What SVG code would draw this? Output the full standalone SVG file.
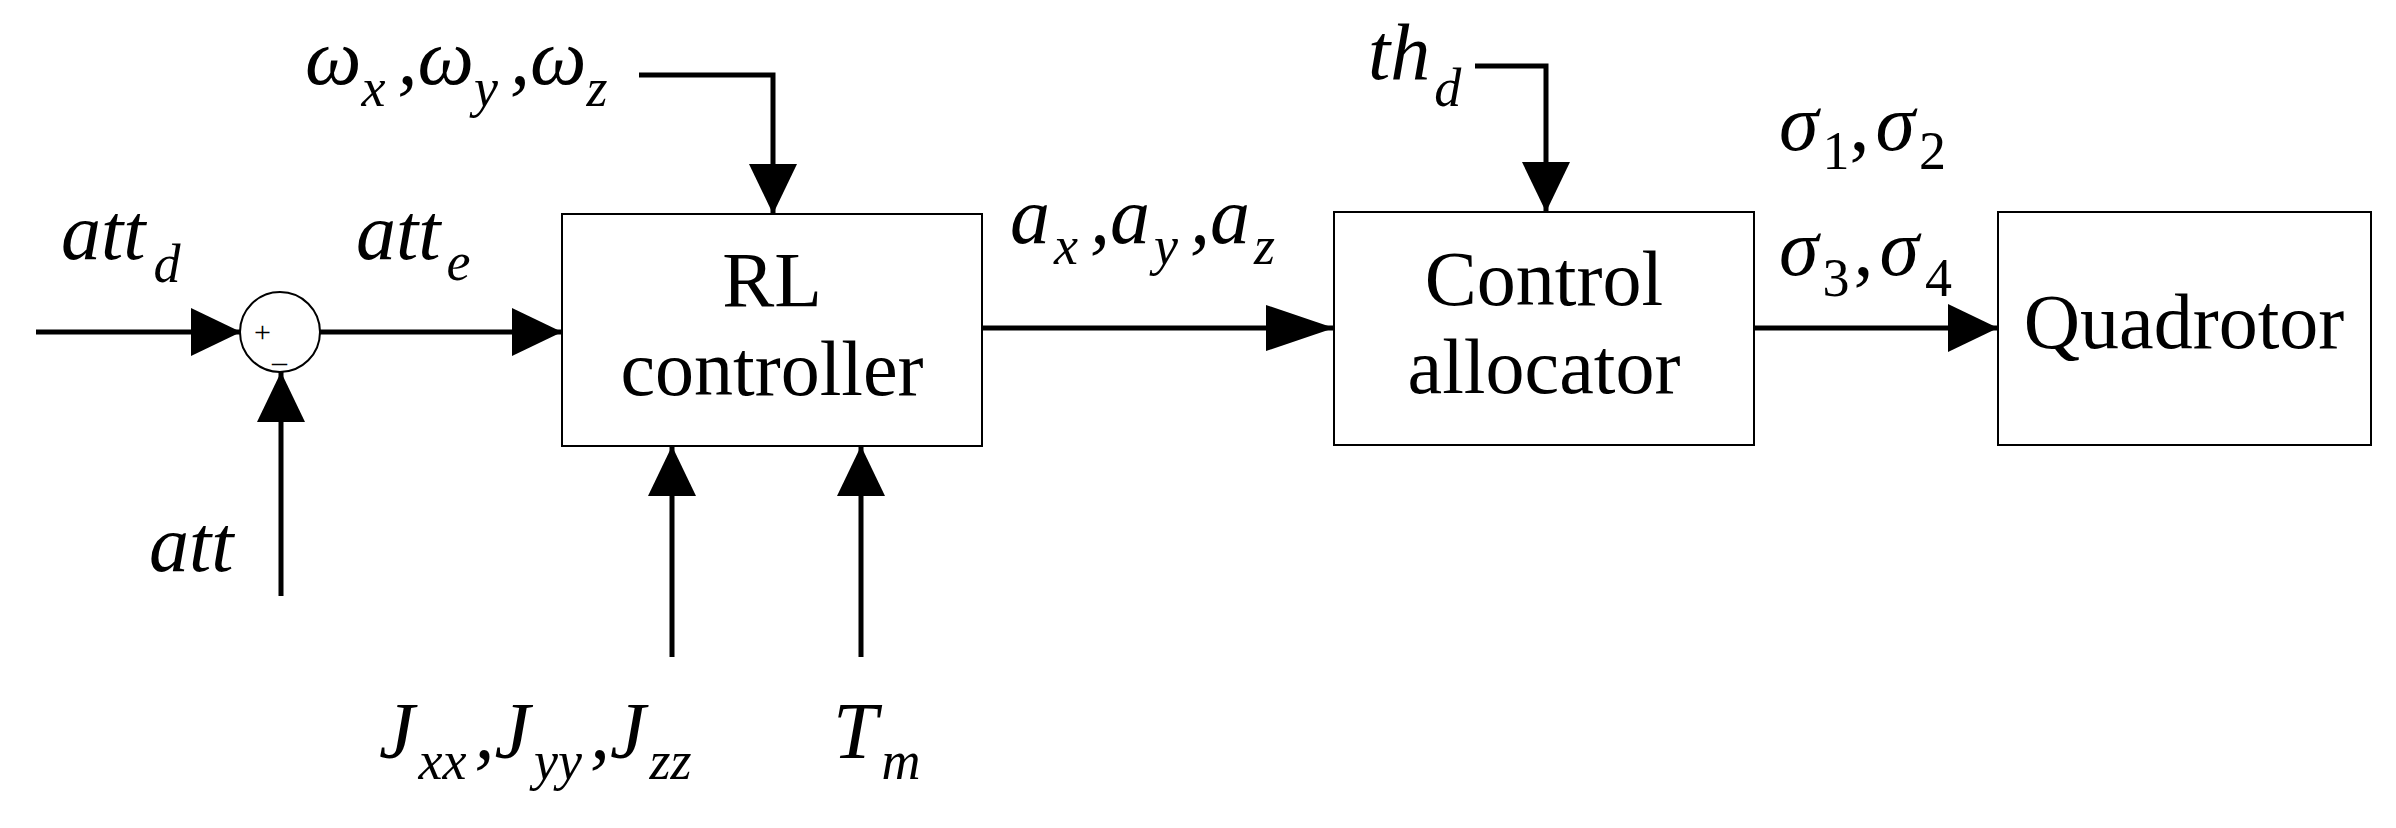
<svg xmlns="http://www.w3.org/2000/svg" width="2396" height="828" viewBox="0 0 2396 828">
<style>
.box{fill:#fff;stroke:#000;stroke-width:2}
.ln{fill:none;stroke:#000;stroke-width:5}
.lbl{font-family:"Liberation Serif",serif;font-size:78px;fill:#000;text-anchor:middle}
.m{font-family:"Liberation Serif",serif;font-style:italic;font-size:80px;fill:#000}
.s{font-size:54px}
.u{font-style:normal}
</style>
<defs>
<marker id="ah" markerWidth="50" markerHeight="48" refX="50" refY="24" orient="auto" markerUnits="userSpaceOnUse">
<path d="M0,0 L50,24 L0,48 Z" fill="#000"/>
</marker>
<marker id="ahb" markerWidth="68" markerHeight="46" refX="68" refY="23" orient="auto" markerUnits="userSpaceOnUse">
<path d="M0,0 L68,23 L0,46 Z" fill="#000"/>
</marker>
</defs>
<rect width="2396" height="828" fill="#fff"/>
<g id="connectors">
<line class="ln" x1="36" y1="332" x2="241" y2="332" marker-end="url(#ah)"/>
<line class="ln" x1="320" y1="332" x2="562" y2="332" marker-end="url(#ah)"/>
<line class="ln" x1="281" y1="596" x2="281" y2="372" marker-end="url(#ah)"/>
<polyline class="ln" points="639,75 773,75 773,214" marker-end="url(#ah)"/>
<line class="ln" x1="672" y1="657" x2="672" y2="446" marker-end="url(#ah)"/>
<line class="ln" x1="861" y1="657" x2="861" y2="446" marker-end="url(#ah)"/>
<line class="ln" x1="982" y1="328" x2="1334" y2="328" marker-end="url(#ahb)"/>
<polyline class="ln" points="1475,66 1546,66 1546,212" marker-end="url(#ah)"/>
<line class="ln" x1="1754" y1="328" x2="1998" y2="328" marker-end="url(#ah)"/>
</g>
<g id="sum">
<circle cx="280" cy="332" r="40" fill="#fff" stroke="#000" stroke-width="2"/>
<text x="254" y="342" font-family="Liberation Serif,serif" font-size="30">+</text>
<text x="272" y="362" font-family="Liberation Serif,serif" font-size="30">_</text>
</g>
<g id="rl">
<rect class="box" x="562" y="214" width="420" height="232"/>
<text class="lbl" x="772" y="306">RL</text>
<text class="lbl" x="772" y="395">controller</text>
</g>
<g id="alloc">
<rect class="box" x="1334" y="212" width="420" height="233"/>
<text class="lbl" x="1544" y="305">Control</text>
<text class="lbl" x="1544" y="393">allocator</text>
</g>
<g id="quad">
<rect class="box" x="1998" y="212" width="373" height="233"/>
<text class="lbl" x="2184" y="348">Quadrotor</text>
</g>
<g id="labels">
<text class="m" x="61" y="259">att<tspan class="s" dx="8" dy="23">d</tspan></text>
<text class="m" x="356" y="259">att<tspan class="s" dx="6" dy="21">e</tspan></text>
<text class="m" x="149" y="571">att</text>
<text class="m" x="305" y="84">ω<tspan class="s" dy="22">x</tspan><tspan dx="12" dy="-22">,ω</tspan><tspan class="s" dy="22">y</tspan><tspan dx="12" dy="-22">,ω</tspan><tspan class="s" dy="22">z</tspan></text>
<text class="m" x="1010" y="243">a<tspan class="s" dx="4" dy="21">x</tspan><tspan dx="12" dy="-21">,a</tspan><tspan class="s" dx="4" dy="21">y</tspan><tspan dx="12" dy="-21">,a</tspan><tspan class="s" dx="4" dy="21">z</tspan></text>
<text class="m" x="1368" y="79">th<tspan class="s" dx="4" dy="27">d</tspan></text>
<text class="m" x="1779" y="150">σ<tspan class="s u" dx="4" dy="19">1</tspan><tspan class="u" dy="-19">,</tspan><tspan dx="6">σ</tspan><tspan class="s u" dx="4" dy="19">2</tspan></text>
<text class="m" x="1779" y="275">σ<tspan class="s u" dx="4" dy="21">3</tspan><tspan class="u" dx="4" dy="-21">,</tspan><tspan dx="6">σ</tspan><tspan class="s u" dx="6" dy="21">4</tspan></text>
<text class="m" x="379" y="758">J<tspan class="s" dx="4" dy="21">xx</tspan><tspan dx="8" dy="-21">,J</tspan><tspan class="s" dx="4" dy="21">yy</tspan><tspan dx="8" dy="-21">,J</tspan><tspan class="s" dx="4" dy="21">zz</tspan></text>
<text class="m" x="833" y="758">T<tspan class="s" dx="4" dy="21">m</tspan></text>
</g>
</svg>
